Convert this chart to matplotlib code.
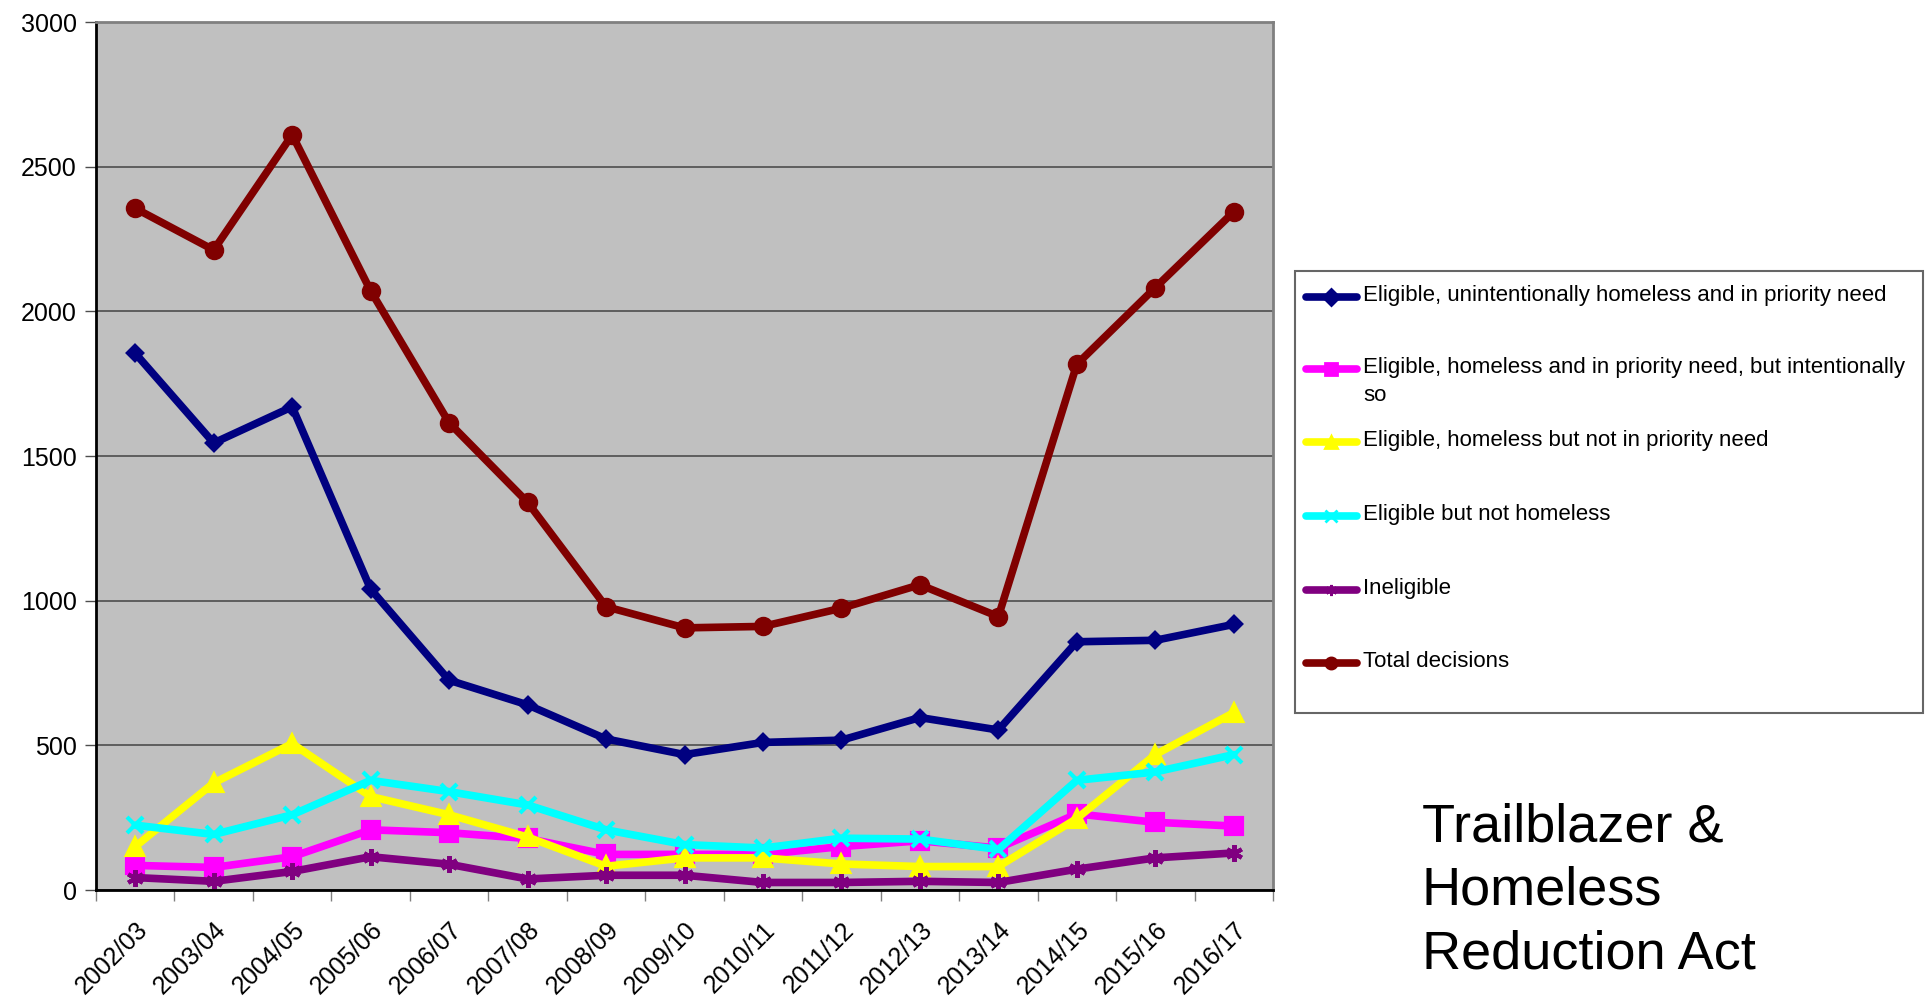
import matplotlib
matplotlib.use("Agg")
import matplotlib.pyplot as plt
from matplotlib.lines import Line2D
from matplotlib.patches import Rectangle

plt.rcParams['font.family'] = ['Liberation Sans', 'DejaVu Sans']

years = ["2002/03", "2003/04", "2004/05", "2005/06", "2006/07", "2007/08",
         "2008/09", "2009/10", "2010/11", "2011/12", "2012/13", "2013/14",
         "2014/15", "2015/16", "2016/17"]

eligible_priority = [1855, 1545, 1670, 1040, 725, 640, 522, 468, 510, 518,
                     596, 553, 858, 863, 918]
intentional = [85, 78, 115, 208, 198, 178, 123, 123, 123, 150, 170, 145,
               263, 234, 221]
not_priority = [150, 370, 506, 323, 260, 183, 82, 111, 111, 90, 81, 81,
                247, 468, 613]
not_homeless = [224, 192, 260, 379, 340, 294, 208, 157, 145, 179, 176, 140,
                379, 408, 468]
ineligible = [43, 30, 64, 115, 89, 38, 51, 51, 26, 26, 30, 26, 72, 111, 128]
total = [2356, 2212, 2610, 2071, 1615, 1340, 979, 906, 911, 974, 1055, 945,
         1817, 2082, 2344]

series_labels = [
    "Eligible, unintentionally homeless and in priority need",
    "Eligible, homeless and in priority need, but intentionally\nso",
    "Eligible, homeless but not in priority need",
    "Eligible but not homeless",
    "Ineligible",
    "Total decisions",
]
series_values = [eligible_priority, intentional, not_priority, not_homeless,
                 ineligible, total]
colors = ["#000080", "#FF00FF", "#FFFF00", "#00FFFF", "#800080", "#800000"]
markers = ["D", "s", "^", "x", (6, 2, 0), "o"]
msizes = [7, 12, 12, 12, 12, 11]

W, H = 1930, 996
fig = plt.figure(figsize=(W / 100, H / 100), dpi=100)
ax = fig.add_axes([96 / W, 1 - 890 / H, (1273 - 96) / W, (890 - 22) / H])
ax.set_facecolor("#C0C0C0")

x = list(range(len(years)))
for vals, c, m, ms in zip(series_values, colors, markers, msizes):
    ax.plot(x, vals, color=c, lw=5.5, marker=m, ms=ms, mew=3,
            mfc=c, mec=c, solid_capstyle="round", solid_joinstyle="round")

ax.set_xlim(-0.5, len(years) - 0.5)
ax.set_ylim(0, 3000)
ax.set_yticks(range(0, 3001, 500))
ax.yaxis.grid(True, color="#4d4d4d", lw=1.2)
ax.set_axisbelow(True)

# tick marks sit between categories; labels sit at category centres
ax.set_xticks([i - 0.5 for i in range(len(years) + 1)])
ax.set_xticklabels([])
ax.set_xticks(x, minor=True)
ax.set_xticklabels(years, minor=True, rotation=45, ha="right",
                   rotation_mode="anchor", fontsize=18)
ax.tick_params(axis="x", which="major", length=8, width=1, color="#808080",
               direction="out")
ax.tick_params(axis="x", which="minor", length=0, pad=20)
ax.tick_params(axis="y", length=8, width=1, color="#4d4d4d", labelsize=18,
               pad=6)

for side in ("left", "bottom"):
    ax.spines[side].set_color("black")
    ax.spines[side].set_linewidth(2)
for side in ("top", "right"):
    ax.spines[side].set_color("#808080")
    ax.spines[side].set_linewidth(2)

# legend box drawn in figure pixels
def fx(px):
    return px / W

def fy(py):
    return 1 - py / H

fig.patches.append(Rectangle((fx(1295), fy(713)), fx(1923) - fx(1295),
                             fy(271) - fy(713), transform=fig.transFigure,
                             facecolor="white", edgecolor="#666666", lw=1.5))
entry_y = [297, 369, 442, 516, 590, 663]
for lbl, c, m, ey in zip(series_labels, colors, markers, entry_y):
    fig.lines.append(Line2D([fx(1306), fx(1357)], [fy(ey), fy(ey)],
                            transform=fig.transFigure, color=c, lw=5.5,
                            solid_capstyle="round"))
    fig.lines.append(Line2D([fx(1331)], [fy(ey)], transform=fig.transFigure,
                            color=c, marker=m, ms=8, mew=2, mfc=c, mec=c))
    fig.text(fx(1363), fy(ey - 12), lbl, fontsize=16, va="top", ha="left",
             linespacing=1.45, transform=fig.transFigure)

fig.text(fx(1422), fy(968), "Trailblazer &\nHomeless\nReduction Act",
         fontsize=39, ha="left", va="baseline", linespacing=1.34)

fig.savefig("out.png", dpi=100, facecolor="white")
